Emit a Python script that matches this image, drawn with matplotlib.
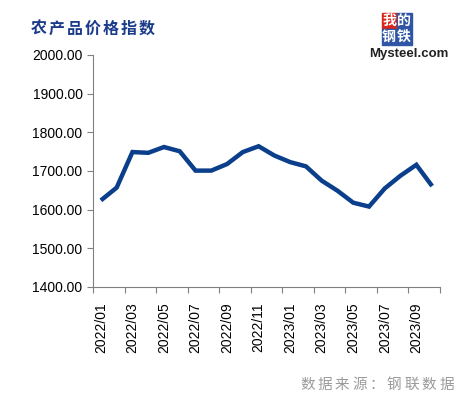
import matplotlib
matplotlib.use("Agg")
import matplotlib.pyplot as plt
from matplotlib.patches import Rectangle

# monthly agricultural product price index, 2022/01 - 2023/10
months = ["2022/01", "2022/02", "2022/03", "2022/04", "2022/05", "2022/06",
          "2022/07", "2022/08", "2022/09", "2022/10", "2022/11", "2022/12",
          "2023/01", "2023/02", "2023/03", "2023/04", "2023/05", "2023/06",
          "2023/07", "2023/08", "2023/09", "2023/10"]
index_values = [1624, 1657, 1749, 1747, 1762, 1751, 1701, 1701, 1718, 1749,
                1764, 1740, 1723, 1712, 1675, 1649, 1618, 1608, 1655, 1688,
                1716, 1661]
y_ticks = [1400, 1500, 1600, 1700, 1800, 1900, 2000]

W, H = 465, 397
fig = plt.figure(figsize=(W / 100, H / 100), dpi=100)
ax = fig.add_axes([93 / W, 1 - 287 / H, (440 - 93) / W, (287 - 55) / H])

x = list(range(len(months)))
ax.plot(x, index_values, color="#0B3F8C", linewidth=3.2,
        solid_joinstyle="miter", solid_capstyle="butt")

ax.set_xlim(-0.5, len(months) - 0.5)
ax.set_ylim(y_ticks[0], y_ticks[-1])
ax.set_yticks(y_ticks, ["%.2f" % v for v in y_ticks],
              fontsize=10, family="Liberation Sans")
ax.set_xticks(x[::2], months[::2], rotation=90,
              fontsize=10, family="Liberation Sans")
ax.set_xticks([i - 0.5 for i in range(0, len(months) + 1, 2)], minor=True)
ax.tick_params(axis="x", which="major", length=0, pad=11)
ax.tick_params(axis="x", which="minor", length=4.5, width=0.8, color="#808080")
ax.tick_params(axis="y", length=4.5, width=0.8, color="#808080", pad=3)

for side in ("top", "right"):
    ax.spines[side].set_visible(False)
for side in ("left", "bottom"):
    ax.spines[side].set_color("#808080")
    ax.spines[side].set_linewidth(0.8)


def px(xp, yp):
    return xp / W, 1 - yp / H


def spaced_text(s, x0, yc, pitch, **kw):
    for i, ch in enumerate(s):
        fig.text(*px(x0 + i * pitch, yc), ch, ha="left", va="center", **kw)


cjk = ["Noto Sans CJK SC", "DejaVu Sans"]
spaced_text("农产品价格指数", 31, 29, 17.9, fontsize=11.5, fontweight="bold",
            color="#1A3A8A", family=cjk)
spaced_text("数据来源：钢联数据", 300, 385, 17.4, fontsize=10.5,
            color="#9A9A9A", family=cjk)

# logo
blocks = [("我", 381.5, 13, "#D9261C"), ("的", 396.5, 13, "#2F55A4"),
          ("钢", 381.5, 29, "#2F55A4"), ("铁", 396.5, 29, "#2F55A4")]
for ch, bx, by, col in blocks:
    fig.patches.append(Rectangle(px(bx, by + 16), 15 / W, 16 / H,
                                 transform=fig.transFigure, color=col))
    fig.text(*px(bx + 7.5, by + 8), ch, ha="center", va="center",
             fontsize=10, color="white", family=cjk, fontweight="bold")
fig.text(*px(409, 54), "Mysteel.com", ha="center", va="center",
         fontsize=9.5, fontweight="bold", color="#222222",
         family="Liberation Sans")

fig.savefig("out.png", dpi=100)
